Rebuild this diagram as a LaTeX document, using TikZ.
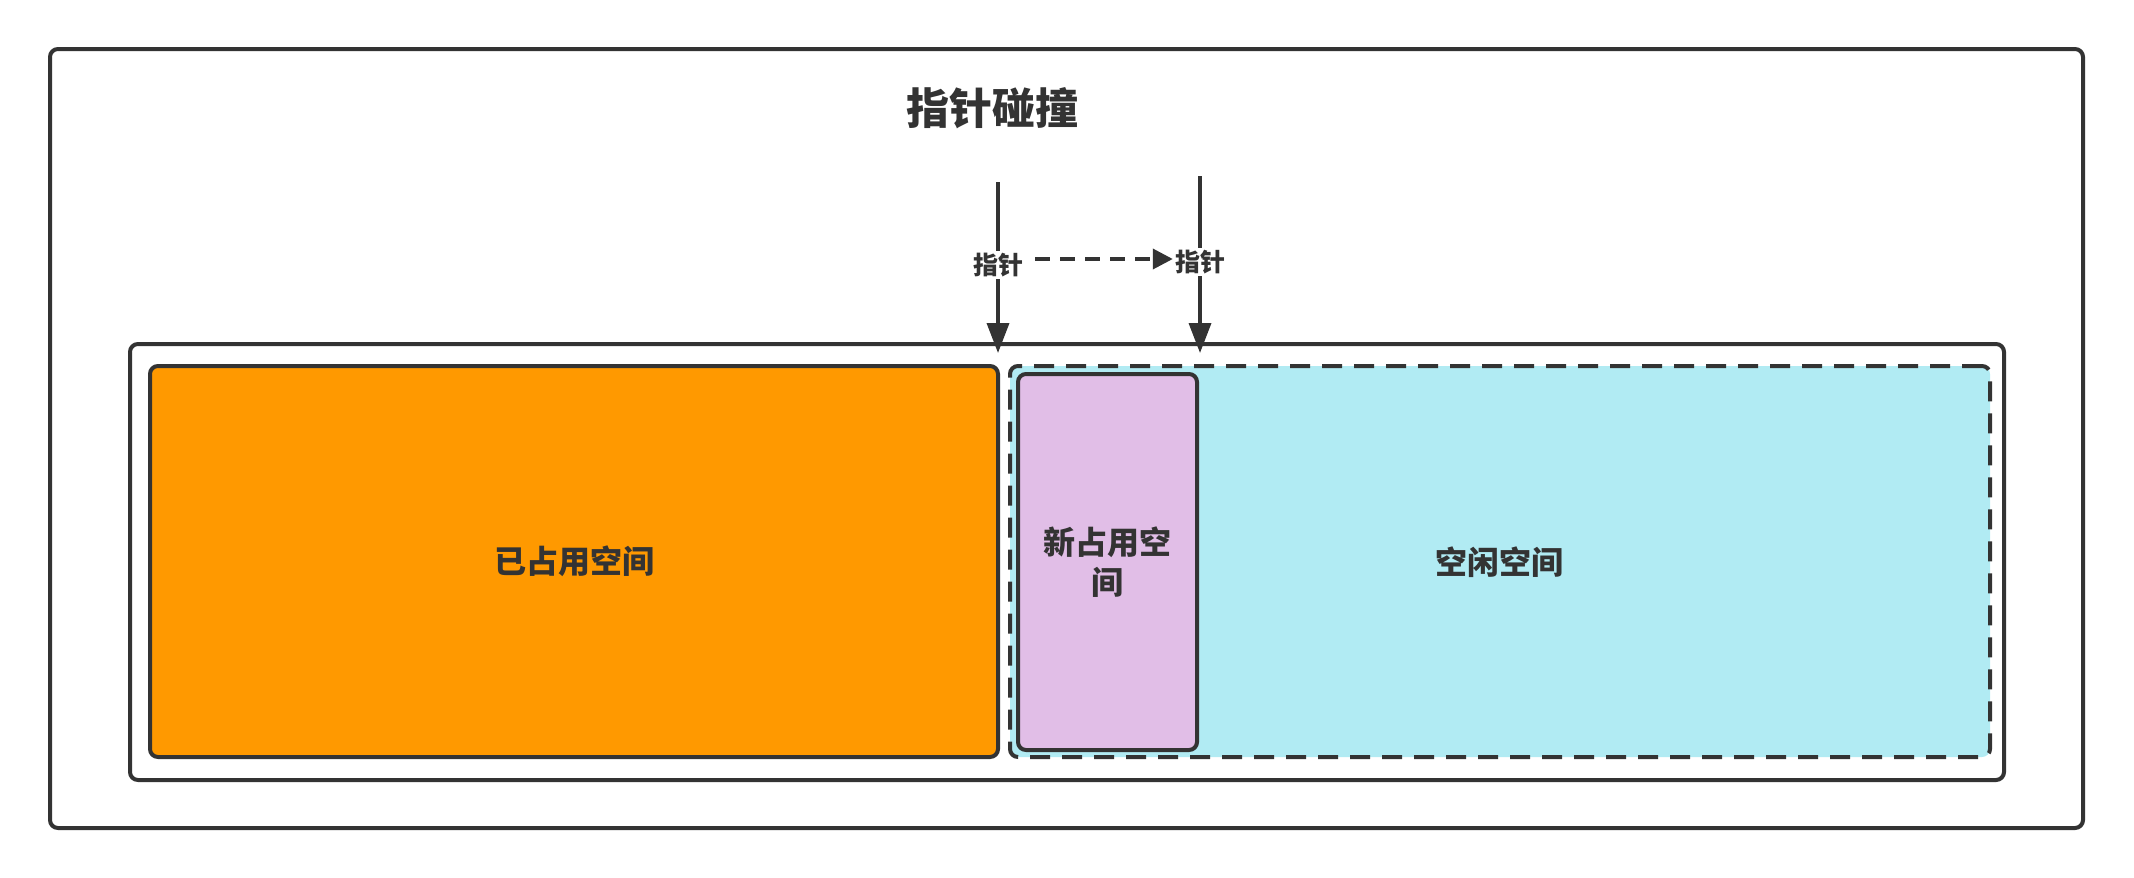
\documentclass[tikz,border=0pt]{standalone}
\usepackage{fontspec}
\newfontfamily\cjk{Noto Sans CJK SC}
\usetikzlibrary{arrows.meta}
\definecolor{ink}{HTML}{333333}
\definecolor{orangefill}{HTML}{FF9900}
\definecolor{cyanfill}{HTML}{B1EBF3}
\definecolor{purplefill}{HTML}{E1BEE7}
\tikzset{
  frame/.style={draw=ink, line width=4pt, rounded corners=8pt, inner sep=0pt},
  boxtext/.style={font=\cjk\bfseries\fontsize{32}{40}\selectfont, text=ink, align=center},
  lbl/.style={font=\cjk\bfseries\fontsize{25}{30}\selectfont, text=ink, fill=white, inner sep=2pt},
  ptr/.style={draw=ink, line width=3.6pt, -{Triangle[length=30pt,width=22pt]}},
  mov/.style={draw=ink, line width=3.6pt, dash pattern=on 15pt off 10pt, -{Triangle[length=20pt,width=20pt]}}
}
\begin{document}
\begin{tikzpicture}[x=1pt,y=-1pt]
\useasboundingbox (0,0) rectangle (2134,878);
\node[frame, minimum width=2033pt, minimum height=779pt] (outer) at (1066.5,438.5) {};
\node[font=\cjk\bfseries\fontsize{43}{50}\selectfont, text=ink] (title) at (992,108) {指针碰撞};
\node[frame, minimum width=1874pt, minimum height=436pt] (inner) at (1067,562) {};
\node[frame, fill=orangefill, minimum width=848pt, minimum height=391pt, boxtext] (used) at (574,561.5) {已占用空间};
\node[frame, dash pattern=on 20pt off 12pt, fill=cyanfill, minimum width=980pt, minimum height=391pt] (free) at (1500,561.5) {};
\node[boxtext] (freetext) at (1499,562) {空闲空间};
\node[frame, fill=purplefill, minimum width=179pt, minimum height=376pt, boxtext] (new) at (1107.5,562) {新占用空\\间};
\coordinate (t1) at (998,182);
\coordinate (b1) at (998,353);
\coordinate (t2) at (1200,176);
\coordinate (b2) at (1200,353);
\draw[ptr] (t1) -- (b1);
\draw[ptr] (t2) -- (b2);
\node[lbl] (p1) at (998,265) {指针};
\node[lbl] (p2) at (1200,262) {指针};
\draw[mov, shorten <=10pt] ([yshift=6pt]p1.east) -- ([yshift=6pt]p1.east -| p2.west);
\end{tikzpicture}
\end{document}
